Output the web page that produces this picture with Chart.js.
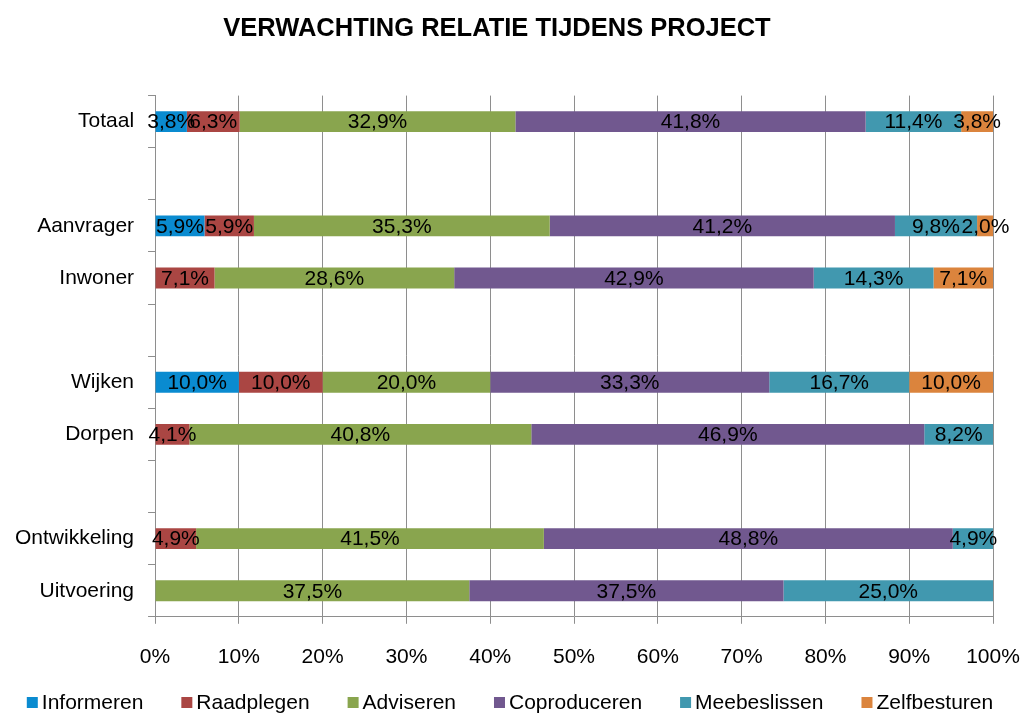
<!DOCTYPE html>
<html>
<head>
<meta charset="utf-8">
<script src="https://cdn.jsdelivr.net/npm/chart.js@4.4.0/dist/chart.umd.min.js"></script>
<style>
  html, body { margin: 0; padding: 0; background: #fff; }
  #wrap { width: 1026px; height: 713px; }
</style>
</head>
<body>
<div id="wrap"><canvas id="chart"></canvas></div>
<script>
// Categories (empty strings are the blank spacer rows)
const categories = ['Totaal', '', 'Aanvrager', 'Inwoner', '', 'Wijken', 'Dorpen', '', 'Ontwikkeling', 'Uitvoering'];

// Series values in percent, one per category
const informeren   = [3.8, null, 5.9, 0,    null, 10.0, 0,    null, 0,    0];
const raadplegen   = [6.3, null, 5.9, 7.1,  null, 10.0, 4.1,  null, 4.9,  0];
const adviseren    = [32.9, null, 35.3, 28.6, null, 20.0, 40.8, null, 41.5, 37.5];
const coproduceren = [41.8, null, 41.2, 42.9, null, 33.3, 46.9, null, 48.8, 37.5];
const meebeslissen = [11.4, null, 9.8, 14.3, null, 16.7, 8.2,  null, 4.9,  25.0];
const zelfbesturen = [3.8, null, 2.0, 7.1,  null, 10.0, 0,    null, 0,    0];

const seriesNames = ['Informeren', 'Raadplegen', 'Adviseren', 'Coproduceren', 'Meebeslissen', 'Zelfbesturen'];
const seriesColors = ['#0a8bd0', '#aa4643', '#89a54e', '#71588f', '#4198af', '#db843d'];
const xTicks = [0, 10, 20, 30, 40, 50, 60, 70, 80, 90, 100];

const FONT = "'Liberation Sans', Arial, sans-serif";
const GRID = '#8e8e8e';

// Draw the value on each segment, Dutch decimal comma
const segmentLabels = {
  id: 'segmentLabels',
  afterDatasetsDraw(chart) {
    const ctx = chart.ctx;
    ctx.save();
    ctx.font = '21px ' + FONT;
    ctx.fillStyle = '#000';
    ctx.textAlign = 'center';
    ctx.textBaseline = 'middle';
    chart.data.datasets.forEach((ds, i) => {
      const meta = chart.getDatasetMeta(i);
      meta.data.forEach((bar, j) => {
        const v = ds.data[j];
        if (!v) return;
        const txt = v.toFixed(1).replace('.', ',') + '%';
        ctx.fillText(txt, (bar.x + bar.base) / 2, bar.y + 1);
      });
    });
    ctx.restore();
  }
};

// Legend along the bottom edge
const bottomLegend = {
  id: 'bottomLegend',
  afterDraw(chart) {
    const ctx = chart.ctx;
    const box = 11, gap = 4, space = 38, y = 703;
    ctx.save();
    ctx.font = '21px ' + FONT;
    ctx.textBaseline = 'middle';
    ctx.textAlign = 'left';
    const items = chart.data.datasets.map(ds => ({
      text: ds.label, color: ds.backgroundColor, w: ctx.measureText(ds.label).width
    }));
    let total = 0;
    items.forEach((it, i) => { total += box + gap + it.w + (i < items.length - 1 ? space : 0); });
    let x = 510 - total / 2;
    items.forEach(it => {
      ctx.fillStyle = it.color;
      ctx.fillRect(x, y - 6, box, box);
      ctx.fillStyle = '#000';
      ctx.fillText(it.text, x + box + gap, y);
      x += box + gap + it.w + space;
    });
    ctx.restore();
  }
};

const allSeries = [informeren, raadplegen, adviseren, coproduceren, meebeslissen, zelfbesturen];

new Chart(document.getElementById('chart'), {
  type: 'bar',
  data: {
    labels: categories,
    datasets: allSeries.map((d, i) => ({
      label: seriesNames[i],
      data: d,
      backgroundColor: seriesColors[i],
      borderWidth: 0,
      categoryPercentage: 1,
      barPercentage: 0.4
    }))
  },
  options: {
    indexAxis: 'y',
    responsive: true,
    maintainAspectRatio: false,
    animation: false,
    layout: { padding: { left: 1, right: 33, top: 0, bottom: 22 } },
    plugins: {
      legend: { display: false },
      tooltip: { enabled: false },
      title: {
        display: true,
        text: 'VERWACHTING RELATIE TIJDENS PROJECT',
        color: '#000',
        font: { family: FONT, size: 25.5, weight: 'bold' },
        padding: { top: 14, bottom: 51 }
      }
    },
    scales: {
      x: {
        stacked: true,
        min: 0,
        max: 100,
        afterBuildTicks(axis) { axis.ticks = xTicks.map(v => ({ value: v })); },
        afterFit(axis) { axis.paddingRight = 0; },
        ticks: {
          color: '#000',
          font: { family: FONT, size: 21 },
          padding: 21,
          callback: v => v + '%'
        },
        grid: { color: GRID, lineWidth: 1, tickLength: 7 },
        border: { color: GRID, width: 1 }
      },
      y: {
        stacked: true,
        ticks: {
          color: '#000',
          font: { family: FONT, size: 21 },
          padding: 14,
          autoSkip: false
        },
        grid: { offset: true, drawOnChartArea: false, color: GRID, tickLength: 7 },
        border: { color: GRID, width: 1 }
      }
    }
  },
  plugins: [segmentLabels, bottomLegend]
});
</script>
</body>
</html>
